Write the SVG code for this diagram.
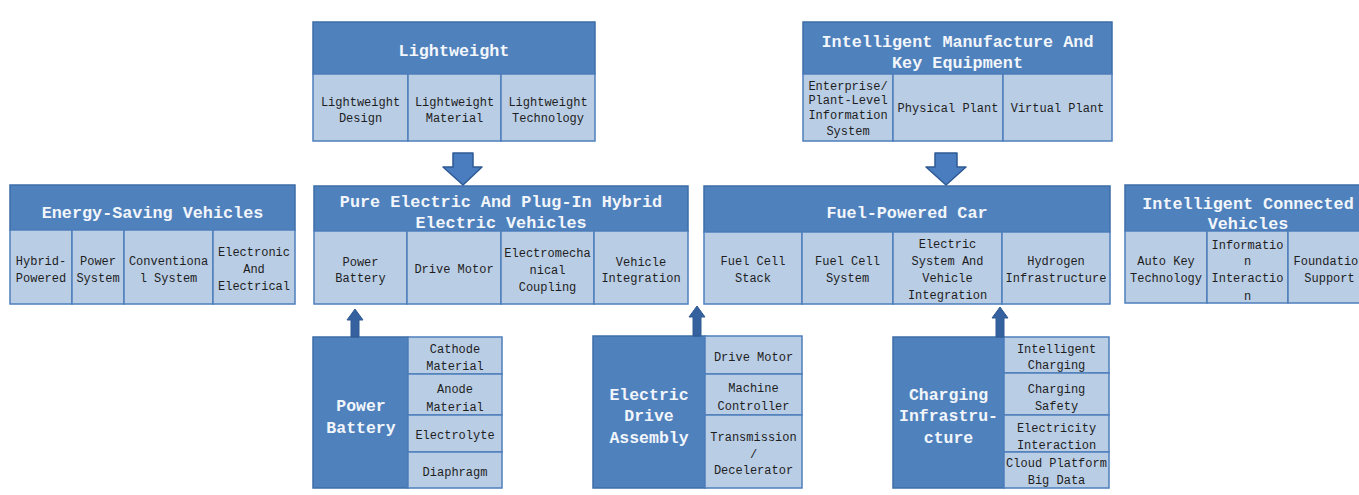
<svg xmlns="http://www.w3.org/2000/svg" width="1359" height="495" viewBox="0 0 1359 495">
<style>
.hd{fill:#4F81BD;stroke:#3E6DA8;stroke-width:1.5}
.cl{fill:#B9CDE5;stroke:#4F7FBC;stroke-width:1.5}
.ht{font-family:"Courier New","Liberation Mono",monospace;font-weight:bold;font-size:16.8px;fill:#F2F6FB;text-anchor:middle}
.lt{font-family:"Courier New","Liberation Mono",monospace;font-weight:bold;font-size:16.5px;fill:#F2F6FB;text-anchor:middle}
.ct{font-family:"Courier New","Liberation Mono",monospace;font-size:12px;fill:#1E1E1E;text-anchor:middle}
.ar{fill:#4A7DC0;stroke:#2E5A94;stroke-width:1.5;stroke-linejoin:round}
.ua{fill:#35629E;stroke:#2E5A94;stroke-width:1}
</style>
<rect width="1359" height="495" fill="#FFFFFF"/>

<g id="energy-saving">
<rect class="hd" x="10" y="185" width="285" height="45"/>
<text class="ht" x="152.5" y="218">Energy-Saving Vehicles</text>
<rect class="cl" x="10" y="230" width="62" height="74"/>
<rect class="cl" x="72" y="230" width="52" height="74"/>
<rect class="cl" x="124" y="230" width="89" height="74"/>
<rect class="cl" x="213" y="230" width="82" height="74"/>
<text class="ct" x="41" y="265">Hybrid-</text><text class="ct" x="41" y="282">Powered</text>
<text class="ct" x="98" y="265">Power</text><text class="ct" x="98" y="282">System</text>
<text class="ct" x="168.5" y="265">Conventiona</text><text class="ct" x="168.5" y="282">l System</text>
<text class="ct" x="254" y="256">Electronic</text><text class="ct" x="254" y="273">And</text><text class="ct" x="254" y="290">Electrical</text>
</g>

<g id="lightweight">
<rect class="hd" x="313" y="22" width="282" height="52"/>
<text class="ht" x="454" y="56">Lightweight</text>
<rect class="cl" x="313" y="74" width="95" height="67"/>
<rect class="cl" x="408" y="74" width="93" height="67"/>
<rect class="cl" x="501" y="74" width="94" height="67"/>
<text class="ct" x="360.5" y="106">Lightweight</text><text class="ct" x="360.5" y="122">Design</text>
<text class="ct" x="454.5" y="106">Lightweight</text><text class="ct" x="454.5" y="122">Material</text>
<text class="ct" x="548" y="106">Lightweight</text><text class="ct" x="548" y="122">Technology</text>
</g>

<g id="intelligent-manufacture">
<rect class="hd" x="803" y="22" width="309" height="52"/>
<text class="ht" x="957.5" y="47">Intelligent Manufacture And</text>
<text class="ht" x="957.5" y="68">Key Equipment</text>
<rect class="cl" x="803" y="74" width="90" height="67"/>
<rect class="cl" x="893" y="74" width="110" height="67"/>
<rect class="cl" x="1003" y="74" width="109" height="67"/>
<text class="ct" x="848" y="90">Enterprise/</text><text class="ct" x="848" y="104">Plant-Level</text><text class="ct" x="848" y="119">Information</text><text class="ct" x="848" y="135">System</text>
<text class="ct" x="948" y="112">Physical Plant</text>
<text class="ct" x="1057.5" y="112">Virtual Plant</text>
</g>

<g id="pure-electric">
<rect class="hd" x="314" y="186" width="374" height="45"/>
<text class="ht" x="501" y="207">Pure Electric And Plug-In Hybrid</text>
<text class="ht" x="501" y="228">Electric Vehicles</text>
<rect class="cl" x="314" y="231" width="93" height="73"/>
<rect class="cl" x="407" y="231" width="94" height="73"/>
<rect class="cl" x="501" y="231" width="93" height="73"/>
<rect class="cl" x="594" y="231" width="94" height="73"/>
<text class="ct" x="360.5" y="266">Power</text><text class="ct" x="360.5" y="282">Battery</text>
<text class="ct" x="454" y="273">Drive Motor</text>
<text class="ct" x="547.5" y="257">Electromecha</text><text class="ct" x="547.5" y="274">nical</text><text class="ct" x="547.5" y="291">Coupling</text>
<text class="ct" x="641" y="266">Vehicle</text><text class="ct" x="641" y="282">Integration</text>
</g>

<g id="fuel-powered">
<rect class="hd" x="704" y="186" width="406" height="46"/>
<text class="ht" x="907" y="218">Fuel-Powered Car</text>
<rect class="cl" x="704" y="232" width="98" height="72"/>
<rect class="cl" x="802" y="232" width="91" height="72"/>
<rect class="cl" x="893" y="232" width="109" height="72"/>
<rect class="cl" x="1002" y="232" width="108" height="72"/>
<text class="ct" x="753" y="265">Fuel Cell</text><text class="ct" x="753" y="282">Stack</text>
<text class="ct" x="847.5" y="265">Fuel Cell</text><text class="ct" x="847.5" y="282">System</text>
<text class="ct" x="947.5" y="248">Electric</text><text class="ct" x="947.5" y="265">System And</text><text class="ct" x="947.5" y="282">Vehicle</text><text class="ct" x="947.5" y="299">Integration</text>
<text class="ct" x="1056" y="265">Hydrogen</text><text class="ct" x="1056" y="282">Infrastructure</text>
</g>

<g id="intelligent-connected">
<rect class="hd" x="1125" y="185" width="246" height="46"/>
<text class="ht" x="1248" y="209">Intelligent Connected</text>
<text class="ht" x="1248" y="229">Vehicles</text>
<rect class="cl" x="1125" y="231" width="82" height="72"/>
<rect class="cl" x="1207" y="231" width="81" height="72"/>
<rect class="cl" x="1288" y="231" width="83" height="72"/>
<text class="ct" x="1166" y="265">Auto Key</text><text class="ct" x="1166" y="282">Technology</text>
<text class="ct" x="1247.5" y="249">Informatio</text><text class="ct" x="1247.5" y="265">n</text><text class="ct" x="1247.5" y="282">Interactio</text><text class="ct" x="1247.5" y="300">n</text>
<text class="ct" x="1329.5" y="265">Foundation</text><text class="ct" x="1329.5" y="282">Support</text>
</g>

<g id="power-battery">
<rect class="hd" x="313" y="337" width="95" height="151"/>
<text class="lt" x="361" y="411">Power</text>
<text class="lt" x="361" y="433">Battery</text>
<rect class="cl" x="408" y="337" width="94" height="37"/>
<rect class="cl" x="408" y="374" width="94" height="41"/>
<rect class="cl" x="408" y="415" width="94" height="37"/>
<rect class="cl" x="408" y="452" width="94" height="36"/>
<text class="ct" x="455" y="353">Cathode</text><text class="ct" x="455" y="370">Material</text>
<text class="ct" x="455" y="393">Anode</text><text class="ct" x="455" y="411">Material</text>
<text class="ct" x="455" y="439">Electrolyte</text>
<text class="ct" x="455" y="476">Diaphragm</text>
</g>

<g id="electric-drive">
<rect class="hd" x="593" y="336" width="112" height="152"/>
<text class="lt" x="649" y="400">Electric</text>
<text class="lt" x="649" y="421">Drive</text>
<text class="lt" x="649" y="443">Assembly</text>
<rect class="cl" x="705" y="336" width="97" height="38"/>
<rect class="cl" x="705" y="374" width="97" height="41"/>
<rect class="cl" x="705" y="415" width="97" height="73"/>
<text class="ct" x="753.5" y="361">Drive Motor</text>
<text class="ct" x="753.5" y="392">Machine</text><text class="ct" x="753.5" y="410">Controller</text>
<text class="ct" x="753.5" y="441">Transmission</text><text class="ct" x="753.5" y="458">/</text><text class="ct" x="753.5" y="474">Decelerator</text>
</g>

<g id="charging">
<rect class="hd" x="893" y="337" width="111" height="151"/>
<text class="lt" x="948.5" y="400">Charging</text>
<text class="lt" x="948.5" y="421">Infrastru-</text>
<text class="lt" x="948.5" y="443">cture</text>
<rect class="cl" x="1004" y="337" width="105" height="36"/>
<rect class="cl" x="1004" y="373" width="105" height="42"/>
<rect class="cl" x="1004" y="415" width="105" height="37"/>
<rect class="cl" x="1004" y="452" width="105" height="36"/>
<text class="ct" x="1056.5" y="353">Intelligent</text><text class="ct" x="1056.5" y="369">Charging</text>
<text class="ct" x="1056.5" y="393">Charging</text><text class="ct" x="1056.5" y="410">Safety</text>
<text class="ct" x="1056.5" y="432">Electricity</text><text class="ct" x="1056.5" y="449">Interaction</text>
<text class="ct" x="1056.5" y="467">Cloud Platform</text><text class="ct" x="1056.5" y="484">Big Data</text>
</g>

<g id="connectors">
<path class="ar" d="M453,153 H473 V167 H482 L463,185 L443,167 H453 Z"/>
<path class="ar" d="M935,153 H957 V167 H966 L946,185 L926,167 H935 Z"/>
<path class="ua" d="M355,309 L363,320 H359 V337 H351 V320 H347 Z"/>
<path class="ua" d="M697,306 L705,317 H701 V336 H693 V317 H689 Z"/>
<path class="ua" d="M1000,307 L1008,318 H1004 V337 H996 V318 H992 Z"/>
</g>
</svg>
